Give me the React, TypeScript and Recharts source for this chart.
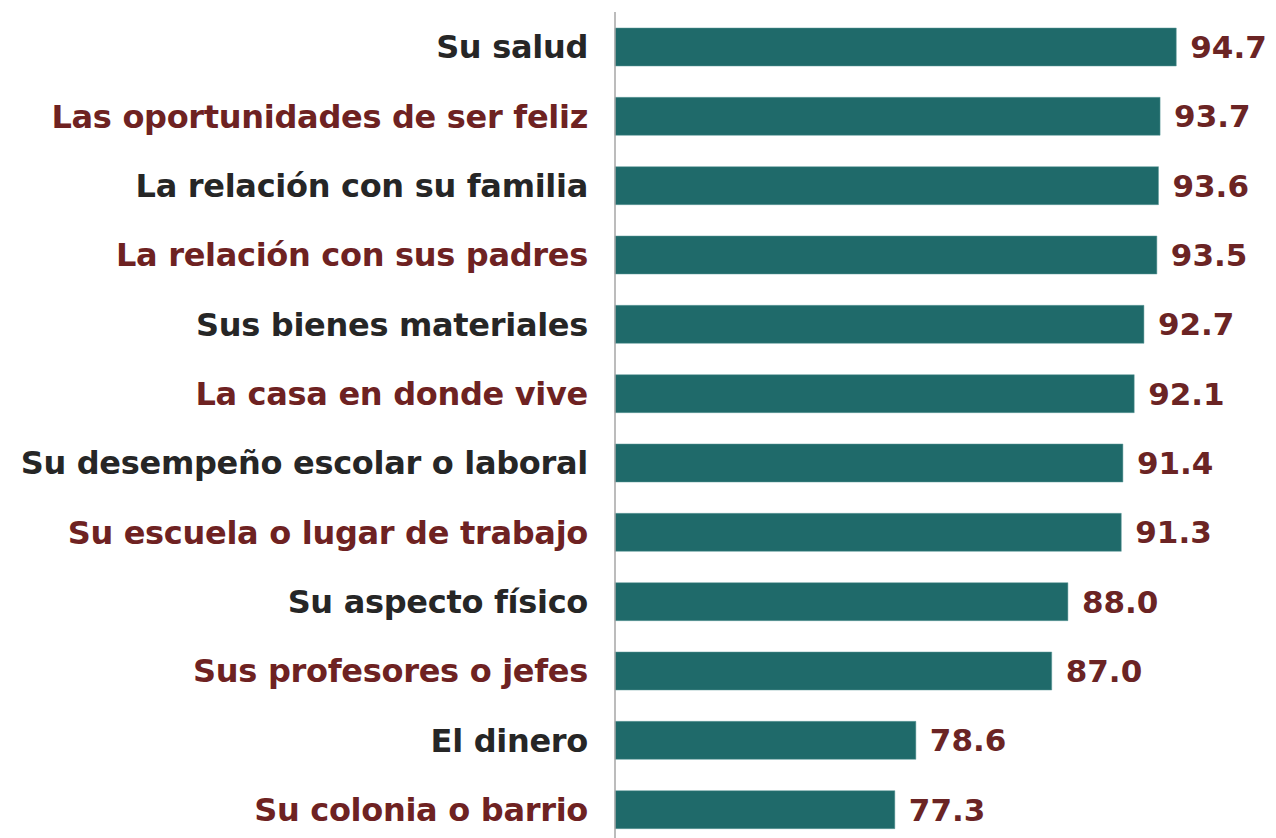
import React from 'react';
import { BarChart, Bar, XAxis, YAxis, LabelList } from 'recharts';

const categories = [
  'Su salud',
  'Las oportunidades de ser feliz',
  'La relación con su familia',
  'La relación con sus padres',
  'Sus bienes materiales',
  'La casa en donde vive',
  'Su desempeño escolar o laboral',
  'Su escuela o lugar de trabajo',
  'Su aspecto físico',
  'Sus profesores o jefes',
  'El dinero',
  'Su colonia o barrio',
];
const values = [94.7, 93.7, 93.6, 93.5, 92.7, 92.1, 91.4, 91.3, 88.0, 87.0, 78.6, 77.3];
const labelColors = ['#262626', '#6E2222'];

const data = categories.map((name, i) => ({ name, value: values[i] }));

const FONT = '"DejaVu Sans", sans-serif';

const CategoryTick = (props: any) => {
  const { x, y, payload, index } = props;
  return (
    <text
      x={x}
      y={y}
      dy="0.36em"
      textAnchor="end"
      fontFamily={FONT}
      fontWeight="bold"
      fontSize={32}
      letterSpacing={-0.3}
      fill={labelColors[index % 2]}
    >
      {payload.value}
    </text>
  );
};

export default function App() {
  return (
    <div style={{ position: 'absolute', left: 0, top: 0, width: 1276, height: 838, overflow: 'hidden', background: '#fff' }}>
      <BarChart
        width={1276}
        height={846}
        data={data}
        layout="vertical"
        margin={{ top: 12, right: 14, bottom: 2, left: 0 }}
        barSize={38}
      >
        <XAxis type="number" domain={[60, 100]} hide />
        <YAxis
          type="category"
          dataKey="name"
          width={615}
          tickLine={false}
          tickSize={0}
          tickMargin={27}
          axisLine={{ stroke: '#A6A6A6', strokeWidth: 1.5 }}
          tick={<CategoryTick />}
          interval={0}
        />
        <Bar dataKey="value" fill="#1F6A6A" stroke="#5E9A9A" strokeWidth={0.5} isAnimationActive={false}>
          <LabelList
            dataKey="value"
            position="right"
            offset={14}
            formatter={(v: any) => Number(v).toFixed(1)}
            style={{ fontFamily: FONT, fontWeight: 'bold', fontSize: 31, fill: '#6B2424' }}
          />
        </Bar>
      </BarChart>
    </div>
  );
}
